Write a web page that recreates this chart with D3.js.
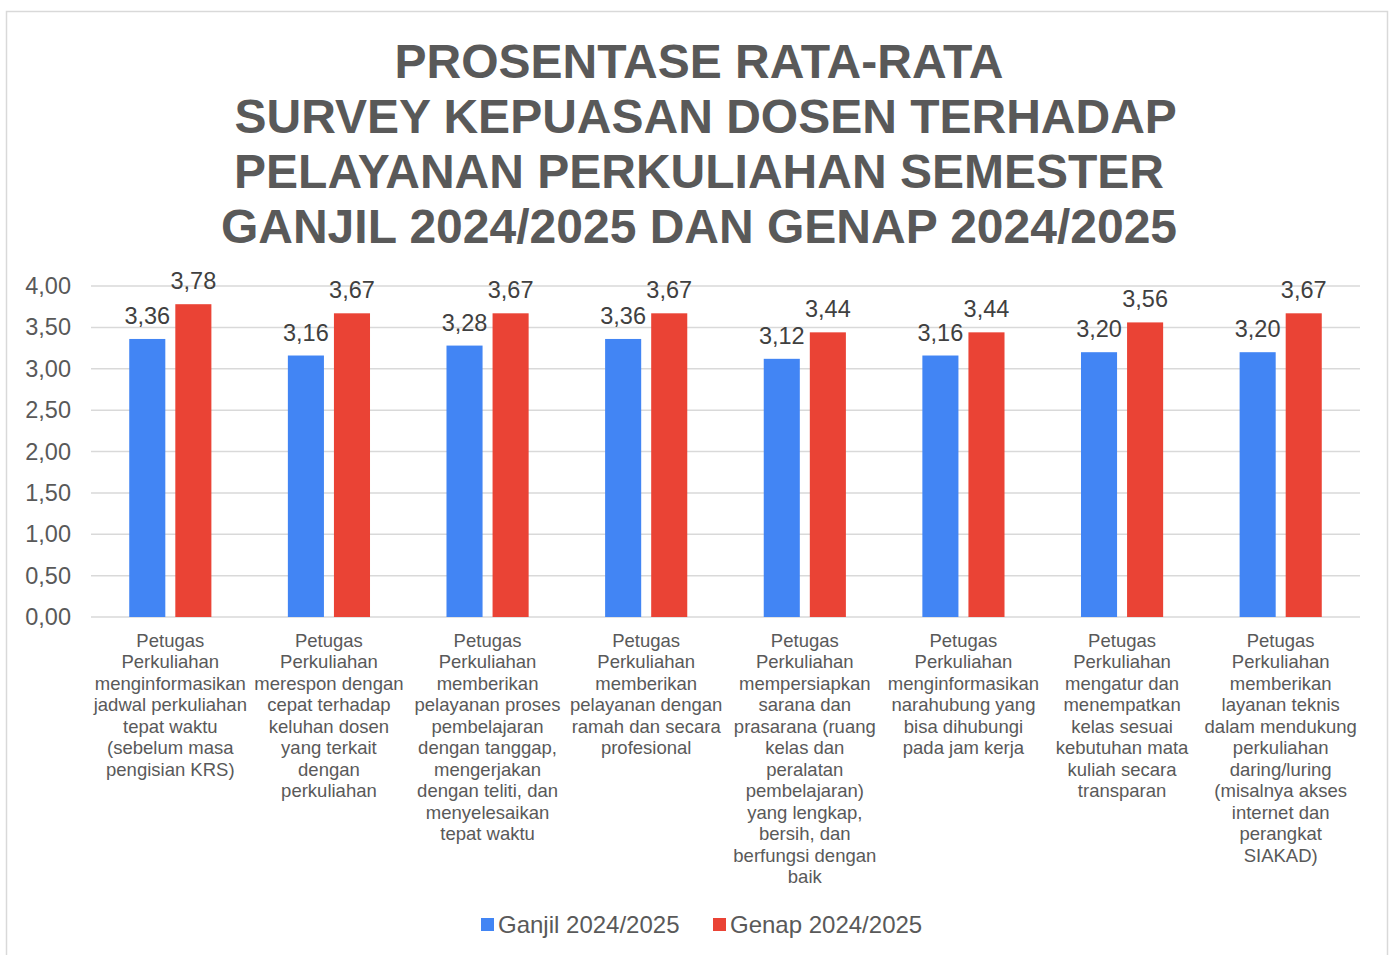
<!DOCTYPE html>
<html lang="id">
<head>
<meta charset="UTF-8">
<title>Survey Kepuasan Dosen</title>
<script src="https://d3js.org/d3.v7.min.js"></script>
<style>
  body { margin: 0; background: #fff; font-family: "Liberation Sans", Arial, sans-serif; }
</style>
</head>
<body>
<svg id="chart" width="1393" height="955"></svg>
<script>
const categories = [
  ["Petugas", "Perkuliahan", "menginformasikan", "jadwal perkuliahan", "tepat waktu", "(sebelum masa", "pengisian KRS)"],
  ["Petugas", "Perkuliahan", "merespon dengan", "cepat terhadap", "keluhan dosen", "yang terkait", "dengan", "perkuliahan"],
  ["Petugas", "Perkuliahan", "memberikan", "pelayanan proses", "pembelajaran", "dengan tanggap,", "mengerjakan", "dengan teliti, dan", "menyelesaikan", "tepat waktu"],
  ["Petugas", "Perkuliahan", "memberikan", "pelayanan dengan", "ramah dan secara", "profesional"],
  ["Petugas", "Perkuliahan", "mempersiapkan", "sarana dan", "prasarana (ruang", "kelas dan", "peralatan", "pembelajaran)", "yang lengkap,", "bersih, dan", "berfungsi dengan", "baik"],
  ["Petugas", "Perkuliahan", "menginformasikan", "narahubung yang", "bisa dihubungi", "pada jam kerja"],
  ["Petugas", "Perkuliahan", "mengatur dan", "menempatkan", "kelas sesuai", "kebutuhan mata", "kuliah secara", "transparan"],
  ["Petugas", "Perkuliahan", "memberikan", "layanan teknis", "dalam mendukung", "perkuliahan", "daring/luring", "(misalnya akses", "internet dan", "perangkat", "SIAKAD)"]
];
const ganjil = [3.36, 3.16, 3.28, 3.36, 3.12, 3.16, 3.20, 3.20];
const genap = [3.78, 3.67, 3.67, 3.67, 3.44, 3.44, 3.56, 3.67];
const seriesNames = ["Ganjil 2024/2025", "Genap 2024/2025"];
const seriesColors = ["#4285F4", "#EA4335"];
const yTicks = [0, 0.5, 1, 1.5, 2, 2.5, 3, 3.5, 4];
const titleLines = [
  "PROSENTASE RATA-RATA",
  " SURVEY KEPUASAN DOSEN TERHADAP",
  "PELAYANAN PERKULIAHAN SEMESTER",
  "GANJIL 2024/2025 DAN GENAP 2024/2025"
];

const svg = d3.select("#chart");
const fmt = v => d3.format(".2f")(v).replace(".", ",");

// frame
svg.append("rect")
  .attr("x", 6.5).attr("y", 11.5)
  .attr("width", 1381).attr("height", 960)
  .attr("fill", "#fff").attr("stroke", "#d9d9d9").attr("stroke-width", 1.5);

// title
svg.append("text")
  .attr("text-anchor", "middle")
  .attr("font-size", 48).attr("font-weight", "bold").attr("fill", "#595959")
  .selectAll("tspan").data(titleLines).join("tspan")
  .attr("x", 699).attr("y", (d, i) => 78 + i * 55)
  .attr("xml:space", "preserve")
  .text(d => d);

const margin = { left: 91, right: 1360, top: 286, bottom: 617 };

const x = d3.scaleBand()
  .domain(d3.range(categories.length))
  .range([margin.left, margin.right]);

const inner = d3.scaleBand()
  .domain([0, 1])
  .range([0, x.bandwidth()])
  .paddingInner(0.217)
  .paddingOuter(0.83);

const y = d3.scaleLinear().domain([0, 4]).range([margin.bottom, margin.top]);

// gridlines
svg.append("g")
  .selectAll("line").data(yTicks).join("line")
  .attr("x1", margin.left).attr("x2", margin.right)
  .attr("y1", d => y(d)).attr("y2", d => y(d))
  .attr("stroke", "#d9d9d9").attr("stroke-width", 1.5);

// y axis labels
const yAxis = d3.axisLeft(y).tickValues(yTicks).tickFormat(fmt).tickSize(0).tickPadding(20);
svg.append("g")
  .attr("transform", `translate(${margin.left},0)`)
  .call(yAxis)
  .call(g => g.select(".domain").remove())
  .call(g => g.selectAll("text")
    .attr("font-family", "Liberation Sans, Arial, sans-serif")
    .attr("font-size", 23.5).attr("fill", "#595959"));

// bars
const series = [ganjil, genap];
series.forEach((vals, s) => {
  const g = svg.append("g");
  g.selectAll("rect").data(vals).join("rect")
    .attr("x", (d, i) => x(i) + inner(s))
    .attr("y", d => y(d))
    .attr("width", inner.bandwidth())
    .attr("height", d => y(0) - y(d))
    .attr("fill", seriesColors[s]);
  g.selectAll("text").data(vals).join("text")
    .attr("x", (d, i) => x(i) + inner(s) + inner.bandwidth() / 2)
    .attr("y", d => y(d) - 15)
    .attr("text-anchor", "middle")
    .attr("font-size", 23.5).attr("fill", "#404040")
    .text(fmt);
});

// x labels
const xl = svg.append("g");
categories.forEach((lines, i) => {
  xl.append("text")
    .attr("text-anchor", "middle")
    .attr("font-size", 18.5).attr("fill", "#595959")
    .selectAll("tspan").data(lines).join("tspan")
    .attr("x", x(i) + x.bandwidth() / 2)
    .attr("y", (d, j) => 646.5 + j * 21.5)
    .text(d => d);
});

// legend
const legend = svg.append("g");
const legX = [481, 713];
seriesNames.forEach((name, i) => {
  legend.append("rect")
    .attr("x", legX[i]).attr("y", 918).attr("width", 13).attr("height", 13)
    .attr("fill", seriesColors[i]);
  legend.append("text")
    .attr("x", legX[i] + 17).attr("y", 933)
    .attr("font-size", 24).attr("fill", "#595959")
    .text(name);
});
</script>
</body>
</html>
